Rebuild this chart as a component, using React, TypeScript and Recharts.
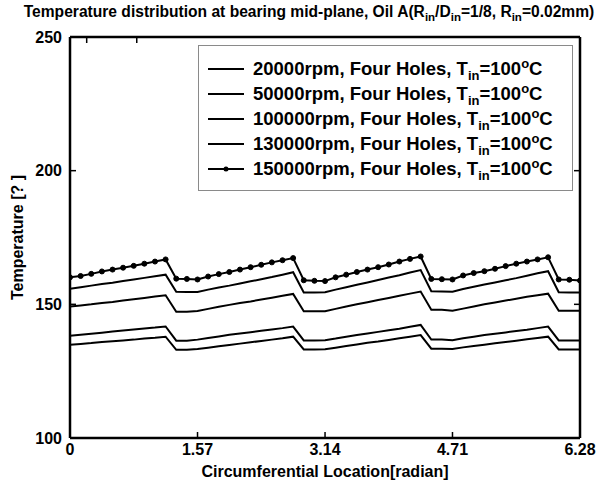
import React from 'react';
import { LineChart, Line, XAxis, YAxis, Legend } from 'recharts';

// circumferential location [rad], 48 steps round the bearing
const xs = [
  0, 0.131, 0.262, 0.393, 0.524, 0.654, 0.785, 0.916, 1.047, 1.178, 1.309, 1.44,
  1.571, 1.702, 1.833, 1.963, 2.094, 2.225, 2.356, 2.487, 2.618, 2.749, 2.88, 3.011,
  3.142, 3.272, 3.403, 3.534, 3.665, 3.796, 3.927, 4.058, 4.189, 4.32, 4.451, 4.581,
  4.712, 4.843, 4.974, 5.105, 5.236, 5.367, 5.498, 5.629, 5.76, 5.89, 6.021, 6.152, 6.283,
];

const t20 = [
  134.9, 135.2, 135.5, 135.9, 136.2, 136.5, 136.8, 137.2, 137.5, 137.9, 133.0, 133.0,
  133.3, 133.8, 134.3, 134.8, 135.3, 135.8, 136.3, 136.8, 137.3, 137.9, 133.1, 133.1,
  133.2, 133.8, 134.4, 135.0, 135.6, 136.1, 136.7, 137.3, 137.9, 138.5, 133.4, 133.4,
  133.3, 133.9, 134.4, 134.9, 135.4, 135.9, 136.4, 136.9, 137.4, 137.9, 133.1, 133.1, 133.1,
];
const t50 = [
  138.2, 138.6, 139.0, 139.4, 139.8, 140.2, 140.6, 141.0, 141.3, 141.7, 136.4, 136.4,
  136.8, 137.4, 138.0, 138.6, 139.1, 139.6, 140.1, 140.6, 141.1, 141.7, 136.5, 136.5,
  136.6, 137.2, 137.9, 138.5, 139.1, 139.7, 140.3, 140.9, 141.6, 142.3, 136.8, 136.8,
  136.6, 137.3, 137.9, 138.5, 139.0, 139.5, 140.0, 140.5, 141.1, 141.7, 136.5, 136.5, 136.5,
];
const t100 = [
  149.2, 149.6, 150.0, 150.5, 150.9, 151.4, 151.9, 152.4, 152.9, 153.4, 147.2, 147.2,
  147.5, 148.3, 149.1, 149.8, 150.5, 151.1, 151.8, 152.5, 153.2, 153.9, 147.4, 147.4,
  147.4, 148.3, 149.2, 150.0, 150.8, 151.6, 152.4, 153.2, 154.0, 154.8, 148.0, 148.0,
  147.6, 148.4, 149.2, 150.0, 150.7, 151.4, 152.1, 152.8, 153.4, 154.0, 147.6, 147.6, 147.6,
];
const t130 = [
  155.8, 156.4, 157.0, 157.6, 158.1, 158.7, 159.3, 159.9, 160.5, 161.1, 154.7, 154.6,
  154.6, 155.5, 156.3, 157.0, 157.8, 158.6, 159.4, 160.2, 161.1, 162.0, 154.4, 154.4,
  154.5, 155.5, 156.4, 157.3, 158.2, 159.1, 160.0, 160.9, 161.9, 162.8, 154.9, 154.8,
  154.7, 155.7, 156.6, 157.4, 158.2, 159.0, 159.8, 160.7, 161.6, 162.4, 154.5, 154.4, 154.4,
];
const t150 = [
  160.1, 160.6, 161.4, 162.3, 163.0, 163.7, 164.4, 165.2, 166.0, 166.8, 159.6, 159.5,
  159.3, 160.4, 161.3, 162.1, 163.0, 163.9, 164.8, 165.7, 166.5, 167.3, 159.0, 158.8,
  158.7, 160.1, 161.1, 162.1, 163.0, 163.9, 164.9, 166.0, 167.0, 167.9, 159.5, 159.4,
  159.3, 160.8, 161.7, 162.4, 163.3, 164.3, 165.2, 166.0, 166.8, 167.6, 159.3, 159.2, 158.9,
];

const rpmLabels = ['20000rpm', '50000rpm', '100000rpm', '130000rpm', '150000rpm'];
const xTicks = [0, 1.571, 3.142, 4.712, 6.283];
const xTickLabels = ['0', '1.57', '3.14', '4.71', '6.28'];
const yTicks = [100, 150, 200, 250];

const FONT = '"Liberation Sans", Arial, Helvetica, sans-serif';

const data = xs.map((x, i) => ({
  x,
  s20: t20[i],
  s50: t50[i],
  s100: t100[i],
  s130: t130[i],
  s150: t150[i],
}));

const tickStyle = { fill: '#000', fontSize: 16, fontWeight: 'bold', fontFamily: FONT };

const TitleLabel = ({ viewBox }: any) => {
  // the title sits a little left of the axes' centre in the original
  const cx = viewBox.x + viewBox.width / 2 - 16;
  return (
    <text x={cx} y={viewBox.y - 19} textAnchor="middle" fontFamily={FONT} fontWeight="bold" fontSize={15.6} fill="#000">
      Temperature distribution at bearing mid-plane, Oil A(R
      <tspan dy={4} fontSize={11.5}>in</tspan>
      <tspan dy={-4}>/D</tspan>
      <tspan dy={4} fontSize={11.5}>in</tspan>
      <tspan dy={-4}>=1/8, R</tspan>
      <tspan dy={4} fontSize={11.5}>in</tspan>
      <tspan dy={-4}>=0.02mm)</tspan>
    </text>
  );
};

const YLabel = ({ viewBox }: any) => {
  const x = viewBox.x + 23;
  const y = viewBox.y + viewBox.height / 2;
  return (
    <text x={x} y={y} transform={`rotate(-90, ${x}, ${y})`} textAnchor="middle" fontFamily={FONT} fontWeight="bold" fontSize={16} fill="#000">
      Temperature [? ]
    </text>
  );
};

const XLabel = ({ viewBox }: any) => (
  <text x={viewBox.x + viewBox.width / 2} y={viewBox.y + 39} textAnchor="middle" fontFamily={FONT} fontWeight="bold" fontSize={16} fill="#000">
    Circumferential Location[radian]
  </text>
);

const LegendBox = ({ payload }: any) => {
  const items = [...(payload || [])].sort((a: any, b: any) => rpmLabels.indexOf(a.value) - rpmLabels.indexOf(b.value));
  return (
    <div style={{ width: 375, height: 146, border: '1px solid #8a8a8a', boxSizing: 'border-box', background: '#fff', paddingTop: 10 }}>
      {items.map((entry: any) => (
        <div
          key={entry.value}
          style={{ display: 'flex', alignItems: 'center', height: 25, fontFamily: FONT, fontWeight: 'bold', fontSize: 18.5, color: '#000', whiteSpace: 'nowrap' }}
        >
          <svg width={46} height={12} style={{ marginLeft: 8, flexShrink: 0 }}>
            <line x1={1} y1={6} x2={37} y2={6} stroke="#000" strokeWidth={2} />
            {entry.dataKey === 's150' && <circle cx={19} cy={6} r={2.5} fill="#000" />}
          </svg>
          <span>
            {entry.value}, Four Holes, T
            <span style={{ fontSize: 13, position: 'relative', top: 5 }}>in</span>
            =100
            <span style={{ fontSize: 13, position: 'relative', top: -7 }}>o</span>C
          </span>
        </div>
      ))}
    </div>
  );
};

export default function App() {
  const axisLine = { stroke: '#000', strokeWidth: 2.5 };
  const tickLine = { stroke: '#000', strokeWidth: 1.5 };
  return (
    <div style={{ position: 'absolute', left: 0, top: 0, width: 616, height: 488, background: '#fff' }}>
      <LineChart width={616} height={488} data={data} margin={{ top: 36, right: 35, bottom: 0, left: 0 }}>
        <XAxis
          dataKey="x"
          type="number"
          domain={[0, 6.283]}
          ticks={xTicks}
          tickFormatter={(v: number) => xTickLabels[xTicks.indexOf(v)]}
          height={50}
          tickSize={-6}
          tickMargin={12}
          tick={tickStyle}
          axisLine={axisLine}
          tickLine={tickLine}
          allowDataOverflow
          label={<XLabel />}
        />
        <XAxis
          xAxisId="top"
          orientation="top"
          type="number"
          domain={[0, 6.283]}
          ticks={xTicks}
          height={1}
          tickSize={-6}
          tick={() => <g />}
          axisLine={axisLine}
          tickLine={tickLine}
          allowDataOverflow
          label={<TitleLabel />}
        />
        <YAxis
          type="number"
          domain={[100, 250]}
          ticks={yTicks}
          width={70}
          tickSize={-6}
          tickMargin={14}
          tick={tickStyle}
          axisLine={axisLine}
          tickLine={tickLine}
          allowDataOverflow
          label={<YLabel />}
        />
        <YAxis
          yAxisId="right"
          orientation="right"
          type="number"
          domain={[100, 250]}
          ticks={yTicks}
          width={1}
          tickSize={-6}
          tick={() => <g />}
          axisLine={axisLine}
          tickLine={tickLine}
          allowDataOverflow
        />
        <Legend
          layout="vertical"
          align="center"
          verticalAlign="middle"
          content={<LegendBox />}
          wrapperStyle={{ position: 'absolute', left: 198, top: 45, width: 375, height: 146 }}
        />
        <Line dataKey="s20" name={rpmLabels[0]} stroke="#000" strokeWidth={2} dot={false} isAnimationActive={false} />
        <Line dataKey="s50" name={rpmLabels[1]} stroke="#000" strokeWidth={2} dot={false} isAnimationActive={false} />
        <Line dataKey="s100" name={rpmLabels[2]} stroke="#000" strokeWidth={2} dot={false} isAnimationActive={false} />
        <Line dataKey="s130" name={rpmLabels[3]} stroke="#000" strokeWidth={2} dot={false} isAnimationActive={false} />
        <Line
          dataKey="s150"
          name={rpmLabels[4]}
          stroke="#000"
          strokeWidth={2}
          dot={{ r: 2.5, fill: '#000', stroke: '#000', strokeWidth: 1 }}
          isAnimationActive={false}
        />
      </LineChart>
    </div>
  );
}
